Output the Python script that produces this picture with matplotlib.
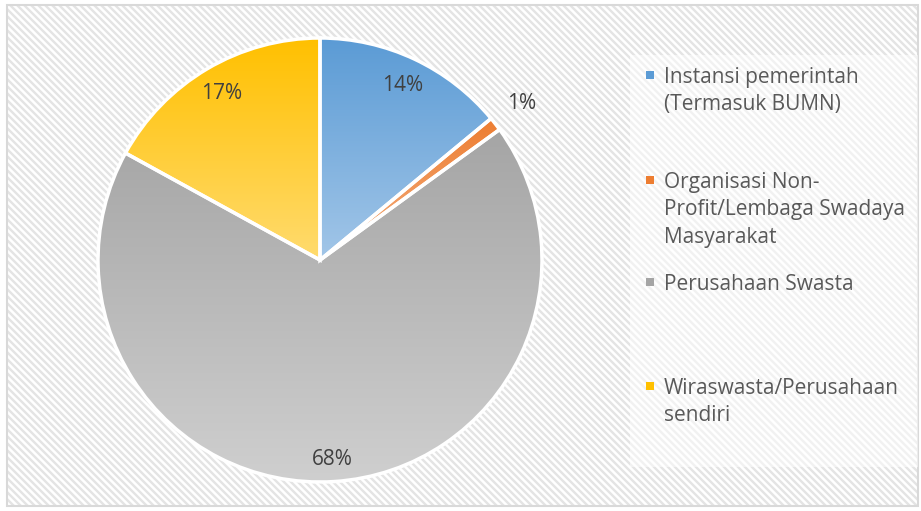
import numpy as np
import matplotlib
matplotlib.use("Agg")
import matplotlib.pyplot as plt
from matplotlib.patches import Rectangle
from matplotlib.collections import LineCollection
from matplotlib.colors import to_rgb

# Data.
categories = [
    "Instansi pemerintah\n(Termasuk BUMN)",
    "Organisasi Non-\nProfit/Lembaga Swadaya\nMasyarakat",
    "Perusahaan Swasta",
    "Wiraswasta/Perusahaan\nsendiri",
]
shares = [14, 1, 68, 17]

# Gradient colours (top, bottom) for each slice.
top_colors = ["#5b9bd5", "#ed7d31", "#a5a5a5", "#ffc000"]
bottom_colors = ["#a2c6e8", "#f4b183", "#cfcfcf", "#ffdb6e"]

plt.rcParams["font.family"] = ["Open Sans", "DejaVu Sans"]

W, H = 921, 511
fig = plt.figure(figsize=(W / 100, H / 100), dpi=100)
fig.patch.set_facecolor("white")

# Diagonal striped chart-area background (pixel coords, y down).
x0, y0, x1, y1 = 7, 5, 918, 506
frame = Rectangle((x0 / W, 1 - y1 / H), (x1 - x0) / W, (y1 - y0) / H,
                  transform=fig.transFigure, facecolor="white",
                  linewidth=0, zorder=0.2)
fig.add_artist(frame)
period = 7
L = 1000
segs = []
for k in np.arange(-(y1 - y0), x1 - x0, period):
    segs.append([((x0 + k) / W, 1 - y0 / H),
                 ((x0 + k + L) / W, 1 - (y0 + L) / H)])
stripes = LineCollection(segs, colors="#e4e4e4", linewidths=1.7,
                         transform=fig.transFigure, zorder=0.5)
stripes.set_clip_path(frame)
fig.add_artist(stripes)
fig.add_artist(Rectangle((x0 / W, 1 - y1 / H), (x1 - x0) / W, (y1 - y0) / H,
                         transform=fig.transFigure, facecolor="none",
                         edgecolor="#d9d9d9", linewidth=1.5, zorder=1))
# Lighter legend box.
fig.add_artist(Rectangle((630 / W, 1 - 467 / H), 288 / W, 412 / H,
                         transform=fig.transFigure, facecolor="white",
                         alpha=0.5, linewidth=0, zorder=1))

# Pie axes: centre (320, 260) px, radius 222 px.
cx, cy, r = 320, 260, 222
ax = fig.add_axes([(cx - r) / W, 1 - (cy + r) / H, 2 * r / W, 2 * r / H])
ax.set_zorder(2)
ax.patch.set_visible(False)

wedges, _ = ax.pie(shares, startangle=90, counterclock=False,
                   wedgeprops=dict(edgecolor="white", linewidth=2.5))
ax.set_aspect("equal")
ax.axis("off")

# Vertical gradient fill per slice, clipped to the wedge.
for w, c_top, c_bot in zip(wedges, top_colors, bottom_colors):
    ext = w.get_path().get_extents()
    t = np.linspace(0, 1, 256)[:, None]
    grad = (1 - t) * np.array(to_rgb(c_top)) + t * np.array(to_rgb(c_bot))
    img = ax.imshow(grad[:, None, :], extent=[ext.x0, ext.x1, ext.y0, ext.y1],
                    origin="upper", aspect="auto", zorder=1)
    img.set_clip_path(w)
    w.set_facecolor("none")
    w.set_zorder(3)
ax.set_xlim(-1, 1)
ax.set_ylim(-1, 1)

# Percentage labels.
label_radius = [0.87, 1.15, 0.90, 0.87]
for w, s, lr in zip(wedges, shares, label_radius):
    mid = np.deg2rad((w.theta1 + w.theta2) / 2)
    ax.text(lr * np.cos(mid), lr * np.sin(mid), f"{s}%", ha="center",
            va="center", fontsize=15, color="#404040", zorder=5,
            clip_on=False)

# Legend entries placed like the original.
legend_y = [75, 180, 282, 386]
for label, y, c_top in zip(categories, legend_y, top_colors):
    fig.add_artist(Rectangle((646 / W, 1 - (y + 4) / H), 8 / W, 8 / H,
                             transform=fig.transFigure,
                             facecolor=c_top, linewidth=0, zorder=3))
    fig.text(664 / W, 1 - (y - 8) / H, label, ha="left", va="top",
             fontsize=15, color="#595959", linespacing=1.4, zorder=4)

fig.savefig("out.png", dpi=100)
